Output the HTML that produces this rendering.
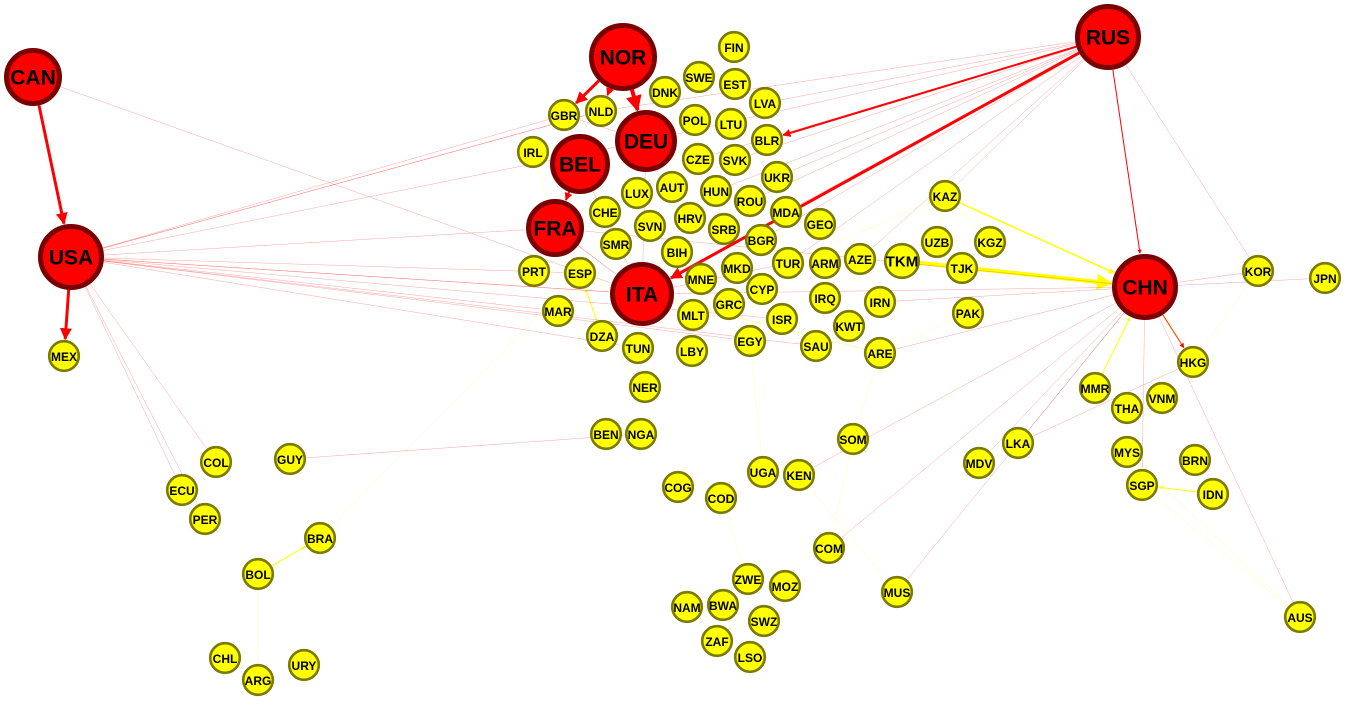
<!DOCTYPE html>
<html><head><meta charset="utf-8">
<style>
html,body{margin:0;padding:0;background:#fff;}
svg{display:block;}
text{font-family:"Liberation Sans",Arial,sans-serif;font-weight:bold;fill:#000;text-anchor:middle;dominant-baseline:central;}
</style></head>
<body>
<svg id="chart" width="1360" height="709" viewBox="0 0 1360 709">
<defs>
<marker id="ar" viewBox="0 0 10 10" refX="9" refY="5" markerWidth="4" markerHeight="4" orient="auto" markerUnits="strokeWidth"><path d="M0,0L10,5L0,10z" fill="#ff0000"/></marker>
<marker id="ay" viewBox="0 0 10 10" refX="9" refY="5" markerWidth="4" markerHeight="4" orient="auto" markerUnits="strokeWidth"><path d="M0,0L10,5L0,10z" fill="#ffff00"/></marker>
</defs>
<g id="edges"></g>
<g id="nodes"></g>
</svg>
<script>
const nodeNames=["CAN","USA","NOR","DEU","BEL","FRA","ITA","RUS","CHN","MEX","COL","GUY","ECU","PER","BRA","BOL","CHL","ARG","URY","FIN","SWE","EST","DNK","LVA","GBR","NLD","POL","LTU","BLR","IRL","CZE","SVK","UKR","LUX","AUT","HUN","ROU","CHE","SVN","HRV","MDA","GEO","SMR","BIH","SRB","BGR","PRT","ESP","MKD","TUR","ARM","AZE","TKM","UZB","KGZ","TJK","KAZ","MNE","CYP","IRQ","IRN","MAR","DZA","MLT","GRC","ISR","KWT","PAK","TUN","LBY","EGY","SAU","ARE","NER","BEN","NGA","COG","COD","UGA","KEN","SOM","COM","ZWE","MOZ","NAM","BWA","SWZ","ZAF","LSO","MUS","LKA","MDV","MMR","THA","VNM","HKG","MYS","BRN","SGP","IDN","KOR","JPN","AUS"];
const nodeX=[33,71,623,646,580,555,642,1108,1145,64,216,290,182,205,320,258,225,258,304,734,699,735,665,765,564,601,695,731,767,533,698,735,777,637,672,716,750,605,650,690,786,820,616,677,724,761,534,580,737,788,825,860,902,937,990,962,945,701,762,825,880,558,602,693,729,782,849,968,638,692,750,816,880,645,606,641,678,721,763,799,853,829,748,785,687,723,764,717,750,897,1018,979,1095,1127,1162,1193,1127,1195,1142,1213,1258,1325,1300];
const nodeY=[77,257,57,141,164,228,294,37,287,356,462,459,490,519,538,574,658,680,665,47,77,84,92,103,115,111,120,124,140,152,159,160,177,193,187,191,201,212,226,218,212,224,244,252,229,240,271,273,268,263,263,259,261,242,242,268,196,279,289,298,302,311,336,315,304,319,326,313,348,351,341,346,353,387,434,434,487,498,472,475,439,548,579,586,607,605,621,641,657,592,443,463,388,408,398,362,452,460,485,494,271,278,617];
const bigNodes=["CAN","USA","NOR","DEU","BEL","FRA","ITA","RUS","CHN"];
const bigRadius=[29,33,34,31,30,29,32,33,33];
// edges: source, target, weight, colour (r=red, y=yellow, o=orange)
const edgeSrc=["CAN","USA","NOR","NOR","NOR","BEL","RUS","RUS","RUS","TKM","KAZ","CHN","IDN","MMR","BOL","DZA","CAN","RUS","RUS","RUS","RUS","RUS","RUS","RUS","RUS","RUS","RUS","RUS","USA","USA","USA","USA","USA","USA","USA","USA","USA","USA","USA","USA","USA","USA","USA","CHN","CHN","CHN","CHN","CHN","CHN","CHN","CHN","CHN","CHN","CHN","CHN","KAZ","KAZ","KAZ","UZB","BRA","BRA","ARG","GUY","AUS","AUS","MUS","COM","COD","SOM","UGA","PAK","TUR","ARE","KOR","FRA","ITA","DEU","BEL","NER","USA","RUS","RUS","ESP","GBR","IRL","RUS","KOR","SGP","LKA"];
const edgeDst=["USA","MEX","GBR","DEU","NLD","FRA","BLR","ITA","CHN","CHN","CHN","HKG","SGP","CHN","BRA","ESP","ITA","DEU","NLD","LVA","UKR","MDA","BGR","AZE","KAZ","KOR","SVK","HUN","ITA","FRA","DEU","ESP","GBR","MAR","COL","ECU","PER","ITA","NLD","TUN","EGY","ISR","SAU","SGP","MDV","LKA","COM","MUS","KEN","AUS","JPN","ITA","FRA","ARE","IRN","UZB","KGZ","TUR","TJK","BOL","ESP","BOL","NGA","SGP","MYS","KEN","SOM","ZWE","ARE","EGY","ARE","ITA","ITA","HKG","ITA","ARE","ITA","ITA","DZA","NLD","ROU","TUR","ITA","DEU","FRA","CZE","CHN","MYS","HKG"];
const edgeW=[3,3,3,4,2,2,2,3,1,4,1.5,1.2,1,1,1,1,0.4,0.4,0.4,0.4,0.4,0.4,0.4,0.4,0.4,0.4,0.4,0.4,0.4,0.4,0.4,0.4,0.4,0.4,0.4,0.4,0.4,0.4,0.4,0.4,0.4,0.4,0.4,0.4,0.4,0.4,0.4,0.4,0.4,0.4,0.4,0.4,0.4,0.4,0.4,0.4,0.4,0.4,0.4,0.5,0.4,0.5,0.4,0.4,0.4,0.4,0.4,0.4,0.4,0.4,0.4,0.4,0.4,0.4,0.6,0.4,0.4,0.4,0.4,0.4,0.4,0.4,0.4,0.4,0.4,0.4,0.4,0.4,0.4];
const edgeC=["r","r","r","r","r","r","r","r","r","y","y","o","y","y","y","y","r","r","r","r","r","r","r","r","r","r","r","r","r","r","r","r","r","r","r","r","r","r","r","r","r","r","r","r","r","r","r","r","r","r","r","r","r","r","r","y","y","y","y","y","y","y","r","y","y","y","y","y","y","y","y","r","y","y","r","y","r","r","y","r","r","r","y","r","y","r","r","y","r"];
const svgNS="http://www.w3.org/2000/svg";
const eg=document.getElementById("edges"),ng=document.getElementById("nodes");
function idx(n){return nodeNames.indexOf(n);}
function rad(n){const b=bigNodes.indexOf(n);return b>=0?bigRadius[b]:(n==="TKM"?18:16);}
const colMap={r:"#ff0000",y:"#ffff00",o:"#ff5500"};
for(let i=0;i<edgeSrc.length;i++){
  const a=idx(edgeSrc[i]),b=idx(edgeDst[i]);
  if(a<0||b<0)continue;
  const x1=nodeX[a],y1=nodeY[a],x2=nodeX[b],y2=nodeY[b];
  const d=Math.hypot(x2-x1,y2-y1)||1,ux=(x2-x1)/d,uy=(y2-y1)/d;
  const r1=rad(edgeSrc[i]),r2=rad(edgeDst[i])+1;
  const l=document.createElementNS(svgNS,"line");
  l.setAttribute("x1",x1+ux*r1);l.setAttribute("y1",y1+uy*r1);
  l.setAttribute("x2",x2-ux*r2);l.setAttribute("y2",y2-uy*r2);
  const w=edgeW[i];
  l.setAttribute("stroke",colMap[edgeC[i]]);
  l.setAttribute("stroke-width",w);
  l.setAttribute("stroke-opacity",w<1?0.45:1);
  if(w>=1)l.setAttribute("marker-end",edgeC[i]==="y"?"url(#ay)":"url(#ar)");
  
  
  eg.appendChild(l);
}
for(let i=0;i<nodeNames.length;i++){
  const n=nodeNames[i],big=bigNodes.indexOf(n)>=0,r=rad(n);
  const g=document.createElementNS(svgNS,"g");
  
  
  const c=document.createElementNS(svgNS,"circle");
  c.setAttribute("cx",nodeX[i]);c.setAttribute("cy",nodeY[i]);
  c.setAttribute("r",big?r-2.5:r-1.2);
  c.setAttribute("fill",big?"#ff0000":"#ffff00");
  c.setAttribute("stroke",big?"#7a0000":"#7a7a00");
  c.setAttribute("stroke-width",big?5:2.6);
  g.appendChild(c);
  const t=document.createElementNS(svgNS,"text");
  t.setAttribute("x",nodeX[i]);t.setAttribute("y",nodeY[i]+1);
  t.setAttribute("font-size",big?21:(n==="TKM"?15:12));
  t.textContent=n;
  g.appendChild(t);
  ng.appendChild(g);
}
</script>
</body></html>
